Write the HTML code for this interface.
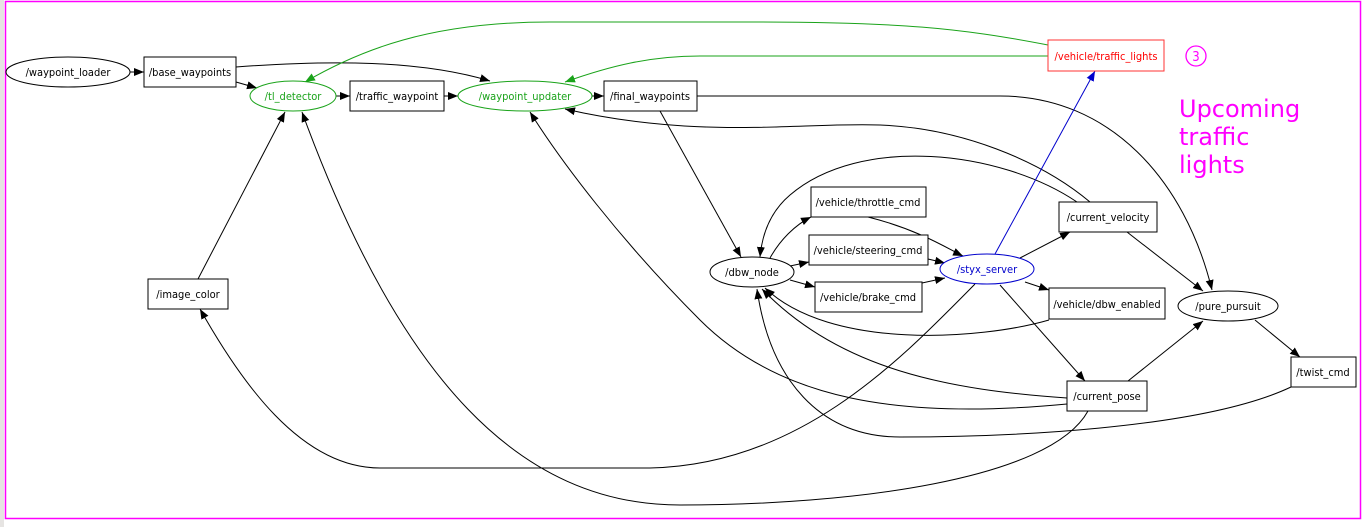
<!DOCTYPE html>
<html><head><meta charset="utf-8"><style>
html,body{margin:0;padding:0;background:#fff;}
svg{display:block;}
text{font-family:"DejaVu Sans Condensed","DejaVu Sans","Liberation Sans",sans-serif;font-size:11px;}
</style></head><body>
<svg width="1363" height="527" viewBox="0 0 1363 527" xmlns="http://www.w3.org/2000/svg">
<defs>
<marker id="a" viewBox="0 0 10 10" refX="10" refY="5" markerWidth="10" markerHeight="10" markerUnits="userSpaceOnUse" orient="auto"><path d="M0,1 L10,5 L0,9 z" fill="#000"/></marker>
<marker id="g" viewBox="0 0 10 10" refX="10" refY="5" markerWidth="10" markerHeight="10" markerUnits="userSpaceOnUse" orient="auto"><path d="M0,1 L10,5 L0,9 z" fill="#1aa31a"/></marker>
<marker id="b" viewBox="0 0 10 10" refX="10" refY="5" markerWidth="10" markerHeight="10" markerUnits="userSpaceOnUse" orient="auto"><path d="M0,1 L10,5 L0,9 z" fill="#0000cc"/></marker>
</defs>
<rect x="0" y="0" width="1363" height="527" fill="#fff"/>
<rect x="0" y="0" width="4" height="527" fill="#e6e4e2"/>
<rect x="5.5" y="1.5" width="1355" height="517" fill="#fff" stroke="#ff00ff" stroke-width="1.5"/>

<g fill="none" stroke="#000" stroke-width="1">
<path d="M130,72 L144,72" marker-end="url(#a)"/>
<path d="M236,82 L257,88" marker-end="url(#a)"/>
<path d="M236,67 C330,60 420,60 490,81" marker-end="url(#a)"/>
<path d="M336,96 L350,96" marker-end="url(#a)"/>
<path d="M444,96 L458,96" marker-end="url(#a)"/>
<path d="M592,96 L604,96" marker-end="url(#a)"/>
<path d="M697,96 L1000,96 C1110,96 1185,180 1212,290" marker-end="url(#a)"/>
<path d="M660,111 L741,257" marker-end="url(#a)"/>
<path d="M1090,202 C1040,160 960,128 880,125 C800,122 700,140 565,109" marker-end="url(#a)"/>
<path d="M1077,202 C1000,150 860,135 790,195 C770,212 762,235 760,257" marker-end="url(#a)"/>
<path d="M198,279 L285,112" marker-end="url(#a)"/>
<path d="M1088,411 C1050,480 850,505 680,505 C520,505 400,380 302,112" marker-end="url(#a)"/>
<path d="M975,284 C900,360 800,465 650,468 L380,468 C300,468 240,380 200,309" marker-end="url(#a)"/>
<path d="M1067,404 C900,420 780,400 700,320 C620,240 560,160 530,112" marker-end="url(#a)"/>
<path d="M1067,398 C950,390 840,370 762,289" marker-end="url(#a)"/>
<path d="M1049,320 C980,340 830,350 765,288" marker-end="url(#a)"/>
<path d="M1291,387 C1200,430 1000,437 900,437 C820,437 770,380 757,289" marker-end="url(#a)"/>
<path d="M770,258 C780,240 795,225 811,217" marker-end="url(#a)"/>
<path d="M790,266 L809,262" marker-end="url(#a)"/>
<path d="M790,280 L815,287" marker-end="url(#a)"/>
<path d="M868,217 C920,230 950,250 963,256" marker-end="url(#a)"/>
<path d="M928,259 L945,263" marker-end="url(#a)"/>
<path d="M922,283 L945,278" marker-end="url(#a)"/>
<path d="M1020,258 L1070,232" marker-end="url(#a)"/>
<path d="M1025,282 L1049,290" marker-end="url(#a)"/>
<path d="M1000,285 L1085,381" marker-end="url(#a)"/>
<path d="M1127,232 L1203,291" marker-end="url(#a)"/>
<path d="M1128,381 L1203,321" marker-end="url(#a)"/>
<path d="M1255,320 L1300,357" marker-end="url(#a)"/>
</g>
<g fill="none" stroke="#1aa31a" stroke-width="1">
<path d="M1048,45 C960,28 900,22 750,22 L550,22 C430,22 360,50 305,82" marker-end="url(#g)"/>
<path d="M1048,56 L700,56 C650,56 610,66 565,82" marker-end="url(#g)"/>
</g>
<path d="M995,254 L1095,71" fill="none" stroke="#0000cc" stroke-width="1" marker-end="url(#b)"/>

<g stroke="#000" stroke-width="1" fill="#fff">
<ellipse cx="68" cy="72" rx="62" ry="15"/>
<rect x="144" y="57" width="92" height="30"/>
<rect x="350" y="81" width="94" height="30"/>
<rect x="604" y="81" width="93" height="30"/>
<rect x="148" y="279" width="80" height="30"/>
<ellipse cx="752" cy="272" rx="42" ry="15"/>
<rect x="811" y="187" width="115" height="30"/>
<rect x="809" y="235" width="119" height="30"/>
<rect x="815" y="282" width="107" height="30"/>
<rect x="1059" y="202" width="98" height="30"/>
<rect x="1049" y="288" width="116" height="31"/>
<ellipse cx="1228" cy="306" rx="50" ry="15"/>
<rect x="1291" y="357" width="65" height="30"/>
<rect x="1067" y="381" width="80" height="30"/>
</g>
<ellipse cx="293" cy="96" rx="43" ry="15" fill="#fff" stroke="#1aa31a"/>
<ellipse cx="525" cy="96" rx="67" ry="15" fill="#fff" stroke="#1aa31a"/>
<ellipse cx="987" cy="269" rx="47" ry="15" fill="#fff" stroke="#0000cc"/>
<rect x="1048" y="40" width="116" height="31" fill="#fff" stroke="#ff3333"/>
<circle cx="1196" cy="56" r="10" fill="none" stroke="#ff00ff" stroke-width="1.3"/>

<g text-anchor="middle" fill="#000">
<text x="68" y="76">/waypoint_loader</text>
<text x="190" y="76">/base_waypoints</text>
<text x="293" y="100" fill="#1aa31a">/tl_detector</text>
<text x="397" y="100">/traffic_waypoint</text>
<text x="525" y="100" fill="#1aa31a">/waypoint_updater</text>
<text x="650" y="100">/final_waypoints</text>
<text x="1106" y="60" fill="#ff0000">/vehicle/traffic_lights</text>
<text x="1196" y="61" fill="#ff00ff" style="font-size:13px">3</text>
<text x="188" y="298">/image_color</text>
<text x="752" y="276">/dbw_node</text>
<text x="868" y="206">/vehicle/throttle_cmd</text>
<text x="868" y="254">/vehicle/steering_cmd</text>
<text x="868" y="301">/vehicle/brake_cmd</text>
<text x="987" y="273" fill="#0000cc">/styx_server</text>
<text x="1108" y="221">/current_velocity</text>
<text x="1107" y="308">/vehicle/dbw_enabled</text>
<text x="1228" y="310">/pure_pursuit</text>
<text x="1323" y="376">/twist_cmd</text>
<text x="1107" y="400">/current_pose</text>
</g>
<g fill="#ff00ff">
<text x="1179" y="117" style="font-family:'DejaVu Sans','Liberation Sans',sans-serif;font-size:24px">Upcoming</text>
<text x="1179" y="145" style="font-family:'DejaVu Sans','Liberation Sans',sans-serif;font-size:24px">traffic</text>
<text x="1179" y="173" style="font-family:'DejaVu Sans','Liberation Sans',sans-serif;font-size:24px">lights</text>
</g>
</svg>
</body></html>
